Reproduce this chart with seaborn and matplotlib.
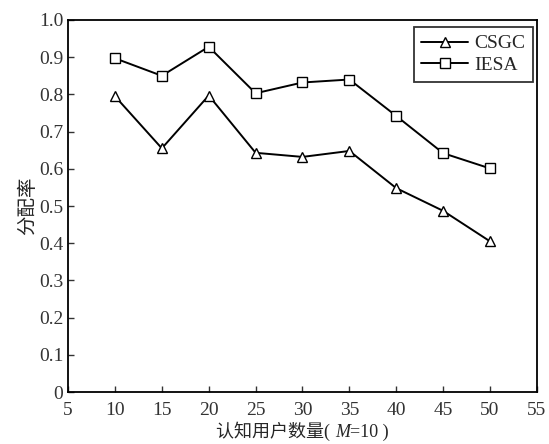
import pandas as pd
import matplotlib.pyplot as plt
import seaborn as sns
from matplotlib.offsetbox import TextArea, HPacker, AnchoredOffsetbox

# values
users = [10, 15, 20, 25, 30, 35, 40, 45, 50]
csgc = [0.795, 0.655, 0.797, 0.643, 0.632, 0.648, 0.548, 0.487, 0.405]
iesa = [0.897, 0.850, 0.928, 0.803, 0.832, 0.840, 0.742, 0.642, 0.601]
series_names = ['CSGC', 'IESA']
x_ticks = [5, 10, 15, 20, 25, 30, 35, 40, 45, 50, 55]
y_ticks = [0, 0.1, 0.2, 0.3, 0.4, 0.5, 0.6, 0.7, 0.8, 0.9, 1.0]
y_labels = ['0', '0.1', '0.2', '0.3', '0.4', '0.5', '0.6', '0.7', '0.8', '0.9', '1.0']

df = pd.DataFrame({
    'users': users * 2,
    'rate': csgc + iesa,
    'alg': [series_names[0]] * len(users) + [series_names[1]] * len(users),
})

sns.set_style('ticks')
plt.rcParams['font.family'] = ['Liberation Serif', 'Noto Sans CJK SC']
plt.rcParams['xtick.direction'] = 'in'
plt.rcParams['ytick.direction'] = 'in'

fig = plt.figure(figsize=(5.49, 4.44), dpi=100)
ax = fig.add_axes([0.124, 0.117, 0.854, 0.838])

sns.lineplot(data=df, x='users', y='rate', hue='alg', style='alg',
             markers={'CSGC': '^', 'IESA': 's'}, dashes=False,
             palette={'CSGC': 'black', 'IESA': 'black'},
             markerfacecolor='white', markeredgecolor='black',
             markeredgewidth=1.0, markersize=7, linewidth=1.4, ax=ax)

ax.set_xlim(5, 55)
ax.set_ylim(0, 1.0)
ax.set_xticks(x_ticks)
ax.set_yticks(y_ticks)
ax.set_yticklabels(y_labels)
ax.tick_params(labelsize=14, length=4, width=1, colors='#333333')
ax.tick_params(axis='x', pad=7)
for s in ax.spines.values():
    s.set_linewidth(1.3)
    s.set_color('black')

# x label with italic M
parts = [TextArea('认知用户数量( ', textprops=dict(fontsize=13)),
         TextArea('M', textprops=dict(fontsize=13, style='italic')),
         TextArea('=10 )', textprops=dict(fontsize=13))]
box = HPacker(children=parts, align='baseline', pad=0, sep=0)
anch = AnchoredOffsetbox(loc='upper center', child=box, pad=0, frameon=False,
                         bbox_to_anchor=(0.5, -0.08), bbox_transform=ax.transAxes,
                         borderpad=0)
ax.add_artist(anch)
ax.set_xlabel('')
ax.set_ylabel('分配率', fontsize=14, labelpad=1)

leg = ax.legend(loc='upper right', fontsize=14, frameon=True, fancybox=False,
                handlelength=2.4, handletextpad=0.3, borderpad=0.4,
                labelspacing=0.2, borderaxespad=0,
                bbox_to_anchor=(0.991, 0.981))
leg.get_frame().set_edgecolor('black')
leg.get_frame().set_linewidth(1.3)

fig.savefig('out.png', dpi=100)
